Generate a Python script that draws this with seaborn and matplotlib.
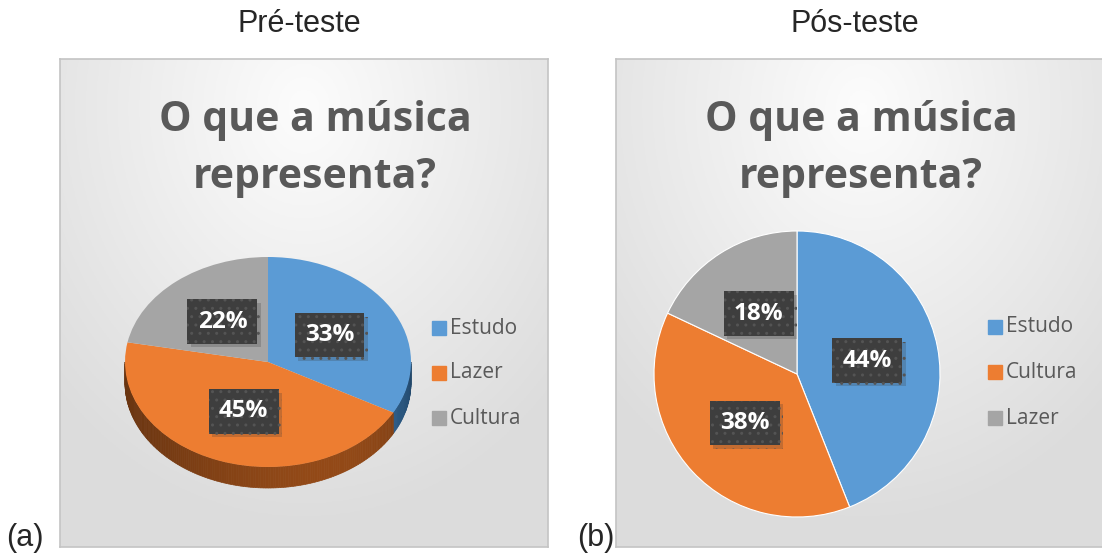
import numpy as np
import matplotlib
matplotlib.use('Agg')
import matplotlib.pyplot as plt
import matplotlib.patheffects as pe
from matplotlib.patches import Polygon, Rectangle
import seaborn as sns

# data
pre_labels = ['Estudo', 'Lazer', 'Cultura']
pre_values = [33, 45, 22]
pos_labels = ['Estudo', 'Cultura', 'Lazer']
pos_values = [44, 38, 18]
panel_titles = ['Pré-teste', 'Pós-teste']
panel_tags = ['(a)', '(b)']
chart_title = 'O que a música\nrepresenta?'

slice_colors = ['#5B9BD5', '#ED7D31', '#A5A5A5']
side_colors = ['#2E5F8C', '#8A4516', '#6E6E6E']

sns.set_theme(style='white')
plt.rcParams['font.family'] = ['Liberation Sans', 'DejaVu Sans']

W, H = 1102, 555
fig = plt.figure(figsize=(W / 100, H / 100), dpi=100)
fig.patch.set_facecolor('white')


def px_axes(x0, y0, x1, y1, **kw):
    # pixel box (top-left origin) -> figure axes
    return fig.add_axes([x0 / W, 1 - y1 / H, (x1 - x0) / W, (y1 - y0) / H], **kw)


def background(x0, y0, x1, y1):
    ax = px_axes(x0, y0, x1, y1)
    gx, gy = np.meshgrid(np.linspace(-1, 1, 200), np.linspace(-1, 1, 200))
    r = np.sqrt((gx * 0.85) ** 2 + ((gy + 0.8) * 0.7) ** 2)
    g = np.clip(0.99 - 0.105 * r, 0.865, 0.99)
    img = np.dstack([g, g, g])
    ax.imshow(img, extent=(0, 1, 0, 1), aspect='auto', origin='upper')
    ax.set_xticks([])
    ax.set_yticks([])
    for s in ax.spines.values():
        s.set_color('#C4C4C4')
        s.set_linewidth(1.2)
    return ax


def label_boxes(texts):
    for t in texts:
        t.set_color('white')
        t.set_fontsize(17.5)
        t.set_fontweight('bold')
        t.set_family(['Open Sans', 'DejaVu Sans'])
        t.set_bbox(dict(boxstyle='square,pad=0.42', fc='#3E3E3E',
                        ec='#545454', lw=0, hatch='..'))
        t.get_bbox_patch().set_path_effects(
            [pe.SimplePatchShadow(offset=(2.5, -2.5), shadow_rgbFace='#333333',
                                  alpha=0.22), pe.Normal()])


def legend_block(x_sq, y_rows, labels):
    for lab, col, y in zip(labels, slice_colors, y_rows):
        fig.patches.append(Rectangle(
            (x_sq / W, 1 - (y + 7) / H), 14 / W, 14 / H, color=col,
            transform=fig.transFigure, figure=fig))
        fig.text((x_sq + 18) / W, 1 - y / H, lab, fontsize=15,
                 color='#595959', va='center', ha='left',
                 family=['Open Sans', 'DejaVu Sans'])


# panel backgrounds
background(60, 59, 548, 547)
background(616, 59, 1108, 547)

for x, t in zip([299, 855], panel_titles):
    fig.text(x / W, 1 - 24 / H, t, fontsize=22, ha='center', va='center')
fig.text(25 / W, 1 - 538 / H, panel_tags[0], fontsize=22, ha='center', va='center')
fig.text(596 / W, 1 - 538 / H, panel_tags[1], fontsize=22, ha='center', va='center')

for x in [315, 861]:
    fig.text(x / W, 1 - 149 / H, chart_title, fontsize=29.5, fontweight='bold',
             color='#595959', ha='center', va='center', linespacing=1.52,
             family=['Open Sans', 'DejaVu Sans'])

# left: tilted pie
cx, cy, rx, ry, depth = 268, 362, 143, 105, 0.2
axl = px_axes(cx - 1.2 * rx, cy - 1.2 * ry, cx + 1.2 * rx, cy + 1.5 * ry)
axl.patch.set_alpha(0)
wedges, _, autotexts = axl.pie(pre_values, colors=slice_colors, startangle=90,
                               counterclock=False, autopct='%d%%',
                               pctdistance=0.5, radius=1,
                               wedgeprops=dict(linewidth=0))
for w, base in zip(wedges, side_colors):
    w.set_zorder(3)
    t1, t2 = sorted([w.theta1, w.theta2])
    # visible front side lies between 180 and 360 degrees
    for k in range(-1, 2):
        a1 = max(t1 + 360 * k, 180)
        a2 = min(t2 + 360 * k, 360)
        if a2 <= a1:
            continue
        steps = np.linspace(a1, a2, max(2, int(a2 - a1) + 1))
        for s1, s2 in zip(steps[:-1], steps[1:]):
            mid = np.deg2rad((s1 + s2) / 2)
            shade = 0.75 + 0.45 * np.sin(-mid) * (0.6 + 0.4 * np.cos(mid))
            rgb = np.clip(np.array(matplotlib.colors.to_rgb(base)) * shade, 0, 1)
            a = np.deg2rad([s1, s2])
            pts = [(np.cos(a[0]), np.sin(a[0])), (np.cos(a[1]), np.sin(a[1])),
                   (np.cos(a[1]), np.sin(a[1]) - depth),
                   (np.cos(a[0]), np.sin(a[0]) - depth)]
            axl.add_patch(Polygon(pts, closed=True, fc=rgb, ec=rgb, lw=0.5,
                                  zorder=2))
for t in autotexts:
    t.set_zorder(5)
label_boxes(autotexts)
axl.set_aspect('auto')
axl.set_xlim(-1.2, 1.2)
axl.set_ylim(-1.5, 1.2)
legend_block(432, [328, 373, 418], pre_labels)

# right: flat pie
cx, cy, r = 797, 374, 143
axr = px_axes(cx - 1.2 * r, cy - 1.2 * r, cx + 1.2 * r, cy + 1.2 * r)
axr.patch.set_alpha(0)
wedges, _, autotexts = axr.pie(pos_values, colors=slice_colors, startangle=90,
                               counterclock=False, autopct='%d%%',
                               pctdistance=0.5, radius=1,
                               wedgeprops=dict(linewidth=0.8, edgecolor='white'))
label_boxes(autotexts)
axr.set_aspect('auto')
axr.set_xlim(-1.2, 1.2)
axr.set_ylim(-1.2, 1.2)
legend_block(988, [327, 372, 418], pos_labels)

fig.savefig('out.png', dpi=100)
